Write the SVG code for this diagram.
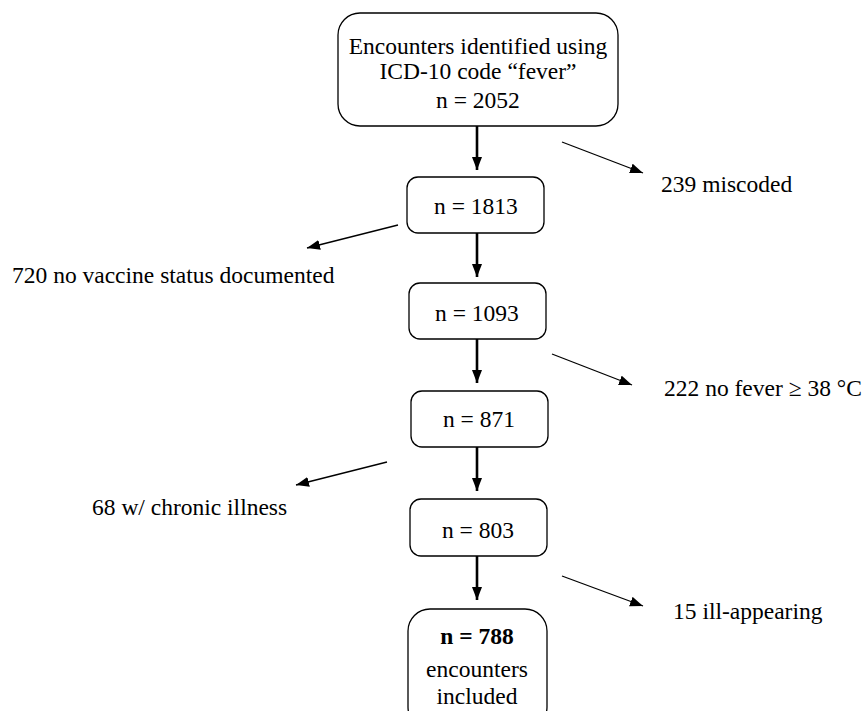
<svg xmlns="http://www.w3.org/2000/svg" width="862" height="711" viewBox="0 0 862 711">
<style>
.box{fill:#fff;stroke:#000;stroke-width:1.3}
.t{font-family:"Liberation Serif","Times New Roman",serif;font-size:23.5px;fill:#000}
.c{text-anchor:middle}
.main{stroke:#000;stroke-width:2.6;fill:none}
.side{stroke:#000;stroke-width:1.3;fill:none}
</style>
<defs>
<marker id="ah" markerUnits="userSpaceOnUse" markerWidth="14" markerHeight="12" refX="13" refY="5" orient="auto">
<path d="M0,0 L13,5 L0,10 Z" fill="#000"/>
</marker>
<marker id="ahs" markerUnits="userSpaceOnUse" markerWidth="14" markerHeight="12" refX="13" refY="5" orient="auto">
<path d="M0,0 L13,5 L0,10 Z" fill="#000"/>
</marker>
</defs>
<rect width="862" height="711" fill="#fff"/>
<g id="connectors">
<line class="main" x1="477" y1="126" x2="477" y2="170" marker-end="url(#ah)"/>
<line class="main" x1="477" y1="233" x2="477" y2="277" marker-end="url(#ah)"/>
<line class="main" x1="477" y1="339" x2="477" y2="383" marker-end="url(#ah)"/>
<line class="main" x1="477" y1="447" x2="477" y2="491" marker-end="url(#ah)"/>
<line class="main" x1="477" y1="556" x2="477" y2="600" marker-end="url(#ah)"/>
<line class="side" x1="562" y1="142" x2="643" y2="173" marker-end="url(#ahs)"/>
<line class="side" x1="398" y1="225" x2="307" y2="248" marker-end="url(#ahs)"/>
<line class="side" x1="552" y1="354" x2="632" y2="385" marker-end="url(#ahs)"/>
<line class="side" x1="387" y1="462" x2="296" y2="485" marker-end="url(#ahs)"/>
<line class="side" x1="562" y1="576" x2="643" y2="606" marker-end="url(#ahs)"/>
</g>
<g id="node-start">
<rect class="box" x="338" y="13" width="280" height="113" rx="22"/>
<text class="t c" x="478" y="54">Encounters identified using</text>
<text class="t c" x="478" y="79">ICD-10 code “fever”</text>
<text class="t c" x="478" y="108">n = 2052</text>
</g>
<g id="node-1813">
<rect class="box" x="407" y="177" width="137" height="56" rx="11"/>
<text class="t c" x="476" y="214">n = 1813</text>
</g>
<g id="node-1093">
<rect class="box" x="409" y="283" width="137" height="56" rx="11"/>
<text class="t c" x="477" y="321">n = 1093</text>
</g>
<g id="node-871">
<rect class="box" x="411" y="391" width="137" height="56" rx="11"/>
<text class="t c" x="479" y="427">n = 871</text>
</g>
<g id="node-803">
<rect class="box" x="410" y="499" width="137" height="57" rx="11"/>
<text class="t c" x="478" y="538">n = 803</text>
</g>
<g id="node-788">
<rect class="box" x="408" y="609" width="139" height="120" rx="22"/>
<text class="t c" x="477" y="644" font-weight="bold">n = 788</text>
<text class="t c" x="477" y="677">encounters</text>
<text class="t c" x="477" y="704">included</text>
</g>
<g id="excl-239"><text class="t" x="661" y="192">239 miscoded</text></g>
<g id="excl-720"><text class="t" x="12" y="283">720 no vaccine status documented</text></g>
<g id="excl-222"><text class="t" x="664" y="396">222 no fever ≥ 38 °C</text></g>
<g id="excl-68"><text class="t" x="92" y="515">68 w/ chronic illness</text></g>
<g id="excl-15"><text class="t" x="673" y="619">15 ill-appearing</text></g>
</svg>
